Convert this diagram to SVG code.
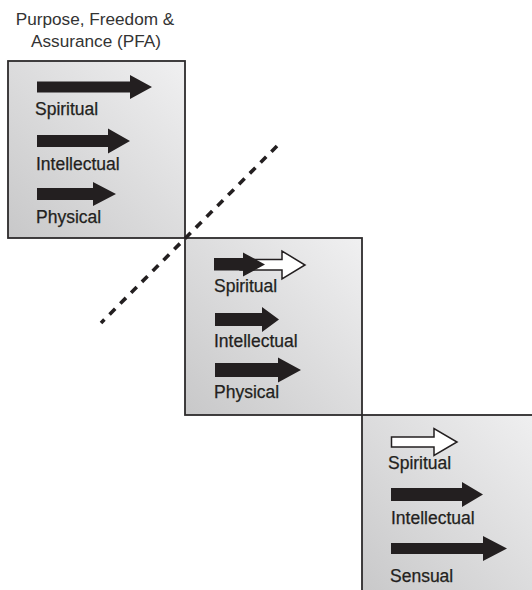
<svg xmlns="http://www.w3.org/2000/svg" width="532" height="590" viewBox="0 0 532 590">
<defs>
<linearGradient id="g" x1="1" y1="0" x2="0" y2="1">
<stop offset="0" stop-color="#f0f0f1"/>
<stop offset="1" stop-color="#c8c8c9"/>
</linearGradient>
<style>
.box{fill:url(#g);stroke:#2d2b2c;stroke-width:1.8}
.ar{fill:#231f20}
.ho{fill:#ffffff;stroke:#231f20;stroke-width:1.5}
.lb{font-family:"Liberation Sans",Arial,sans-serif;font-size:17.5px;fill:#231f20;stroke:#231f20;stroke-width:0.25}
.tt{font-family:"Liberation Sans",Arial,sans-serif;font-size:17.2px;fill:#333333;text-anchor:middle}
.dot{fill:none;stroke:#231f20;stroke-width:3.6;stroke-dasharray:8 7.3}
</style>
</defs>
<rect width="532" height="590" fill="#ffffff"/>
<g id="title">
<text class="tt" x="95" y="25">Purpose, Freedom &amp;</text>
<text class="tt" x="96" y="47">Assurance (PFA)</text>
</g>
<g id="box1">
<rect class="box" x="8" y="61" width="177" height="177"/>
<polygon class="ar" points="37,81.5 130,81.5 130,75 152,87 130,99 130,92.5 37,92.5"/>
<text class="lb" x="35" y="115">Spiritual</text>
<polygon class="ar" points="37,135 108,135 108,128.5 130,141 108,153.5 108,147 37,147"/>
<text class="lb" x="36" y="170">Intellectual</text>
<polygon class="ar" points="37,188 93,188 93,182 116,194 93,206 93,200 37,200"/>
<text class="lb" x="36" y="223">Physical</text>
</g>
<g id="box2">
<rect class="box" x="185" y="238" width="177" height="177"/>
<polygon class="ho" points="240,259.5 282,259.5 282,251 305,265 282,279 282,270 240,270"/>
<polygon class="ar" points="214,258 243,258 243,252.5 265,264.5 243,276.5 243,270.5 214,270.5"/>
<text class="lb" x="214" y="292">Spiritual</text>
<polygon class="ar" points="215,313 262,313 262,307 279,319.5 262,332 262,326 215,326"/>
<text class="lb" x="214" y="347">Intellectual</text>
<polygon class="ar" points="215,363 278,363 278,357.5 301,370 278,382.5 278,377 215,377"/>
<text class="lb" x="214" y="398">Physical</text>
</g>
<g id="box3">
<rect class="box" x="362" y="415" width="180" height="185"/>
<polygon class="ho" points="391.5,437 434,437 434,428.5 457,442 434,455.5 434,447 391.5,447"/>
<text class="lb" x="388" y="469">Spiritual</text>
<polygon class="ar" points="391,488 462,488 462,482 483,494.5 462,507 462,501 391,501"/>
<text class="lb" x="391" y="524">Intellectual</text>
<polygon class="ar" points="391,543 483,543 483,536 507,548.5 483,561 483,554 391,554"/>
<text class="lb" x="390" y="582">Sensual</text>
</g>
<g id="connectors">
<line class="dot" x1="277" y1="146" x2="101" y2="323"/>
</g>
</svg>
